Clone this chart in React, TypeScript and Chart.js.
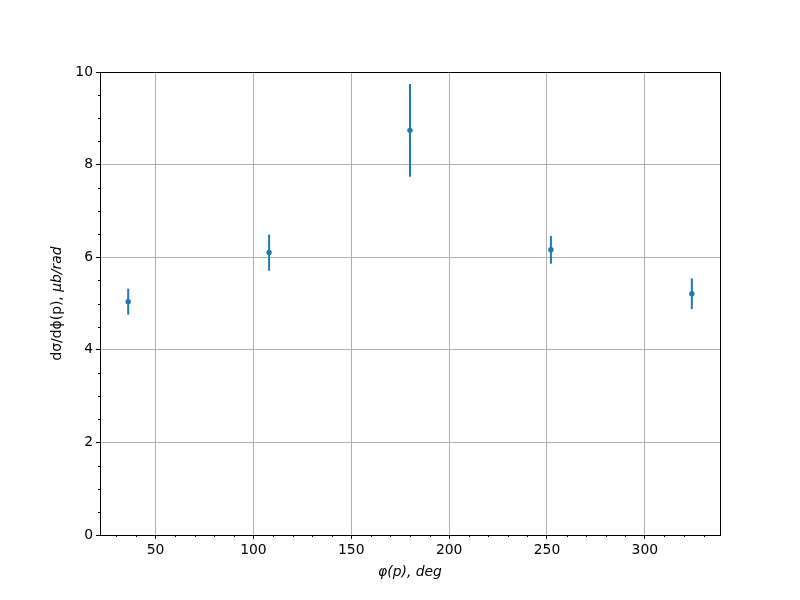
import React, { useEffect, useRef } from "react";
import { Chart, registerables } from "chart.js";

Chart.register(...registerables);

const phiDeg = [36, 108, 180, 252, 324];
const dSigma = [5.04, 6.1, 8.74, 6.16, 5.21];
const dSigmaErr = [0.28, 0.39, 1.0, 0.3, 0.33];
const xTicks = [50, 100, 150, 200, 250, 300];
const xMinorStep = 10;
const yMinorStep = 0.5;

const FONT = "'DejaVu Sans', sans-serif";
const BLUE = "#1f77b4";

const errorBarPlugin = {
  id: "errorBars",
  beforeDatasetsDraw(chart: any) {
    const { ctx, scales } = chart;
    const xs = scales.x, ys = scales.y;
    ctx.save();
    ctx.strokeStyle = BLUE;
    ctx.lineWidth = 2;
    for (let i = 0; i < phiDeg.length; i++) {
      const px = xs.getPixelForValue(phiDeg[i]);
      const y1 = ys.getPixelForValue(dSigma[i] - dSigmaErr[i]);
      const y2 = ys.getPixelForValue(dSigma[i] + dSigmaErr[i]);
      ctx.beginPath();
      ctx.moveTo(px, y1);
      ctx.lineTo(px, y2);
      ctx.stroke();
    }
    ctx.restore();
  },
};

const framePlugin = {
  id: "frame",
  afterDraw(chart: any) {
    const { ctx, chartArea: a, scales } = chart;
    const xs = scales.x, ys = scales.y;
    ctx.save();
    ctx.strokeStyle = "#000";
    ctx.lineWidth = 1;
    // minor ticks
    ctx.beginPath();
    for (let v = Math.ceil(xs.min / xMinorStep) * xMinorStep; v <= xs.max; v += xMinorStep) {
      if (v % 50 === 0) continue;
      const p = Math.round(xs.getPixelForValue(v)) + 0.5;
      ctx.moveTo(p, a.bottom);
      ctx.lineTo(p, a.bottom + 2);
    }
    for (let v = 0; v <= ys.max + 1e-9; v += yMinorStep) {
      if (Math.abs(v % 2) < 1e-9) continue;
      const p = Math.round(ys.getPixelForValue(v)) + 0.5;
      ctx.moveTo(a.left, p);
      ctx.lineTo(a.left - 2, p);
    }
    ctx.stroke();
    // frame
    ctx.strokeRect(Math.round(a.left) + 0.5, Math.round(a.top) + 0.5, Math.round(a.right - a.left), Math.round(a.bottom - a.top));
    // axis titles
    ctx.fillStyle = "#000";
    ctx.textBaseline = "middle";
    ctx.font = `italic 13.9px ${FONT}`;
    ctx.textAlign = "center";
    ctx.fillText("\u03c6(p), deg", (a.left + a.right) / 2, 572);
    // y title with mixed styles
    ctx.translate(57, (a.top + a.bottom) / 2);
    ctx.rotate(-Math.PI / 2);
    const part1 = "d\u03c3/d\u03d5(p), ";
    const part2 = "\u03bcb/rad";
    ctx.font = `13.9px ${FONT}`;
    const w1 = ctx.measureText(part1).width;
    ctx.font = `italic 13.9px ${FONT}`;
    const w2 = ctx.measureText(part2).width;
    const start = -(w1 + w2) / 2;
    ctx.textAlign = "left";
    ctx.font = `13.9px ${FONT}`;
    ctx.fillText(part1, start, 0);
    ctx.font = `italic 13.9px ${FONT}`;
    ctx.fillText(part2, start + w1, 0);
    ctx.restore();
  },
};

export default function App() {
  const ref = useRef<HTMLCanvasElement>(null);
  useEffect(() => {
    document.body.style.margin = "0";
    const chart = new Chart(ref.current!, {
      type: "scatter",
      data: {
        datasets: [
          {
            data: phiDeg.map((x, i) => ({ x, y: dSigma[i] })),
            backgroundColor: BLUE,
            borderColor: BLUE,
            pointRadius: 2.7,
            pointBorderWidth: 0,
            showLine: false,
          },
        ],
      },
      options: {
        animation: false,
        responsive: false,
        layout: { padding: { left: 0, top: 72, right: 80, bottom: 0 } },
        plugins: { legend: { display: false }, tooltip: { enabled: false } },
        scales: {
          x: {
            type: "linear",
            min: 21.6,
            max: 338.4,
            afterBuildTicks: (s: any) => {
              s.ticks = xTicks.map((v) => ({ value: v }));
            },
            afterFit: (s: any) => {
              s.height = 65;
            },
            grid: { color: "#b0b0b0", tickColor: "#000", tickLength: 4, lineWidth: 1 },
            border: { display: false },
            ticks: { color: "#000", font: { family: FONT, size: 13.9 }, padding: 3, maxRotation: 0, autoSkip: false },
          },
          y: {
            type: "linear",
            min: 0,
            max: 10,
            afterFit: (s: any) => {
              s.width = 100;
            },
            grid: { color: "#b0b0b0", tickColor: "#000", tickLength: 4, lineWidth: 1 },
            border: { display: false },
            ticks: { stepSize: 2, color: "#000", font: { family: FONT, size: 13.9 }, padding: 3 },
          },
        },
      },
      plugins: [errorBarPlugin, framePlugin],
    } as any);
    return () => chart.destroy();
  }, []);
  return (
    <div style={{ width: 800, height: 600, background: "#fff" }}>
      <canvas ref={ref} width={800} height={600} style={{ display: "block" }} />
    </div>
  );
}
